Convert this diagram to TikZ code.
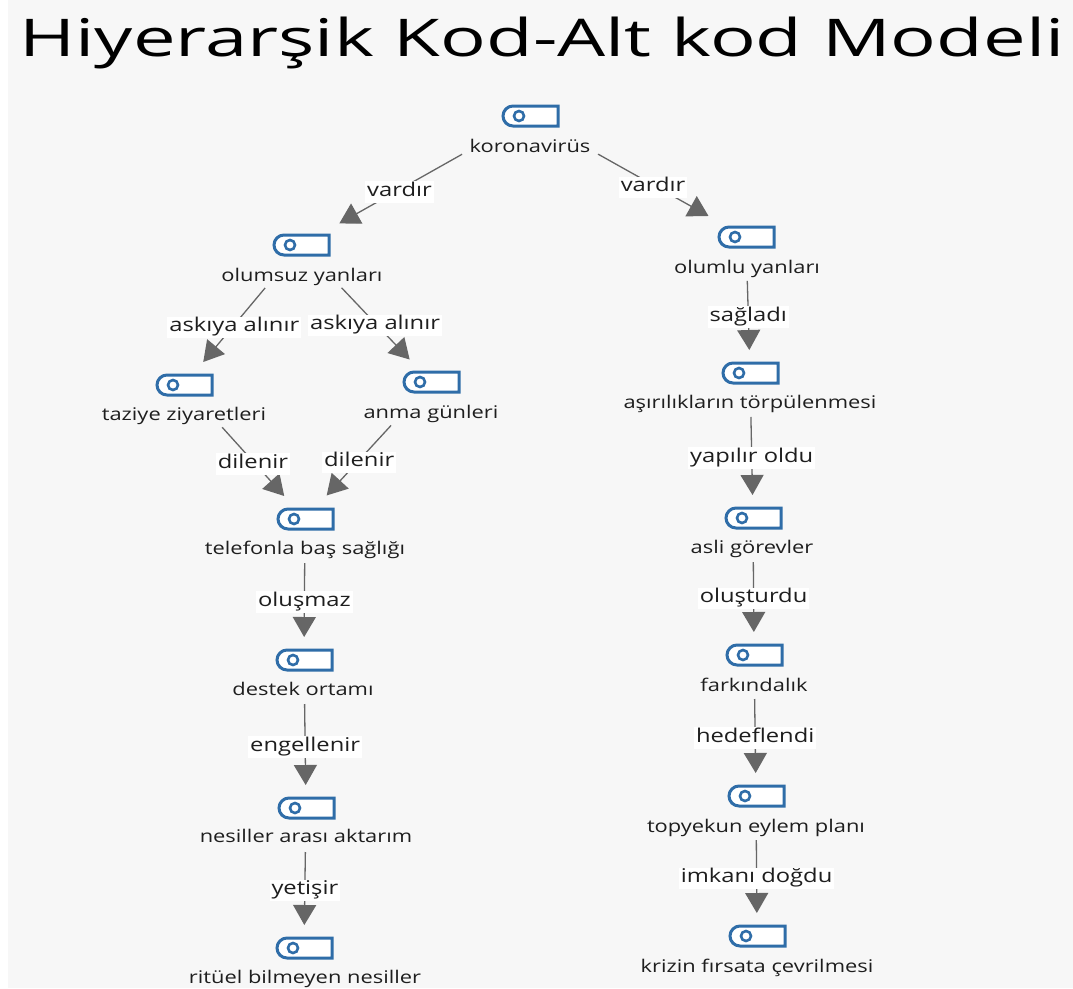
\documentclass[tikz,border=0pt]{standalone}
\usepackage{fontspec}
\usepackage{graphicx}
\setmainfont{Open Sans}
\newfontfamily\widefont[FakeStretch=1.25]{Open Sans}
\definecolor{bg}{HTML}{F7F7F7}
\definecolor{iconblue}{HTML}{2F6DA8}
\definecolor{edgegray}{HTML}{666666}
\definecolor{inktext}{HTML}{1E1E1E}
\usetikzlibrary{arrows.meta}
\tikzset{
  x=1pt,y=-1pt,
  iconbox/.style={minimum width=62pt,minimum height=26pt,inner sep=0pt,
    path picture={
      \draw[iconblue,line width=3pt,fill=white,line join=miter]
        ([xshift=-29pt]path picture bounding box.center) ++(12pt,-10pt) -- ++(45pt,0) -- ++(0,20pt) -- ++(-45pt,0)
        arc[start angle=90,end angle=270,radius=10pt] -- cycle;
      \draw[iconblue,line width=2.6pt] ([xshift=-11pt]path picture bounding box.center) circle[radius=5pt];
    }},
  conceptlabel/.style={text=inktext,font=\widefont\fontsize{17.5}{20}\selectfont,inner sep=1pt},
  conn/.style={edgegray,line width=1.3pt,-{Triangle[length=20pt,width=23pt]}},
  rel/.style={fill=white,text=inktext,font=\widefont\fontsize{19}{20}\selectfont,inner xsep=2pt,inner ysep=0.5pt,pos=.57,yshift=-2.5pt}
}
\newcommand{\concept}[4]{%
  \node[iconbox] (#1) at (#2) {};
  \node[conceptlabel] (#1t) at (#3) {\strut #4};
}
\begin{document}
\begin{tikzpicture}
\useasboundingbox (0,0) rectangle (1073,988);
\fill[bg] (8,0) rectangle (1073,988);
\node[text=black,inner sep=0pt] (title) at (542,43) {\resizebox*{1045pt}{52pt}{\fontsize{54}{60}\selectfont Hiyerarşik Kod-Alt kod Modeli}};

\concept{k}{530,116}{530,148}{koronavirüs}
\concept{neg}{301,245}{302,277}{olumsuz yanları}
\concept{pos}{746,237}{747,269}{olumlu yanları}
\concept{tz}{184,385}{184,416}{taziye ziyaretleri}
\concept{an}{431,382}{431,414}{anma günleri}
\concept{as}{750,373}{750,404}{aşırılıkların törpülenmesi}
\concept{te}{305,519}{305,550}{telefonla baş sağlığı}
\concept{go}{753,518}{752,549}{asli görevler}
\concept{de}{304,660}{303,691}{destek ortamı}
\concept{fa}{754,655}{754,687}{farkındalık}
\concept{ne}{306,808}{306,838}{nesiller arası aktarım}
\concept{to}{756,796}{756,828}{topyekun eylem planı}
\concept{ri}{304,948}{305,979}{ritüel bilmeyen nesiller}
\concept{kr}{757,936}{757,968}{krizin fırsata çevrilmesi}

\newcommand{\link}[5]{\draw[conn,shorten <=#3pt,shorten >=#4pt] (#1.center) -- node[rel]{\strut #5} (#2.center);}
\link{k}{neg}{78}{44}{vardır}
\link{k}{pos}{78}{43}{vardır}
\link{neg}{tz}{56}{30}{askıya alınır}
\link{neg}{an}{59}{31}{askıya alınır}
\link{tz}{te}{57}{31}{dilenir}
\link{an}{te}{59}{32}{dilenir}
\link{te}{de}{44}{23}{oluşmaz}
\link{de}{ne}{44}{23}{engellenir}
\link{ne}{ri}{44}{23}{yetişir}
\link{pos}{as}{44}{23}{sağladı}
\link{as}{go}{44}{23}{yapılır oldu}
\link{go}{fa}{44}{23}{oluşturdu}
\link{fa}{to}{44}{23}{hedeflendi}
\link{to}{kr}{44}{23}{imkanı doğdu}
\end{tikzpicture}
\end{document}
